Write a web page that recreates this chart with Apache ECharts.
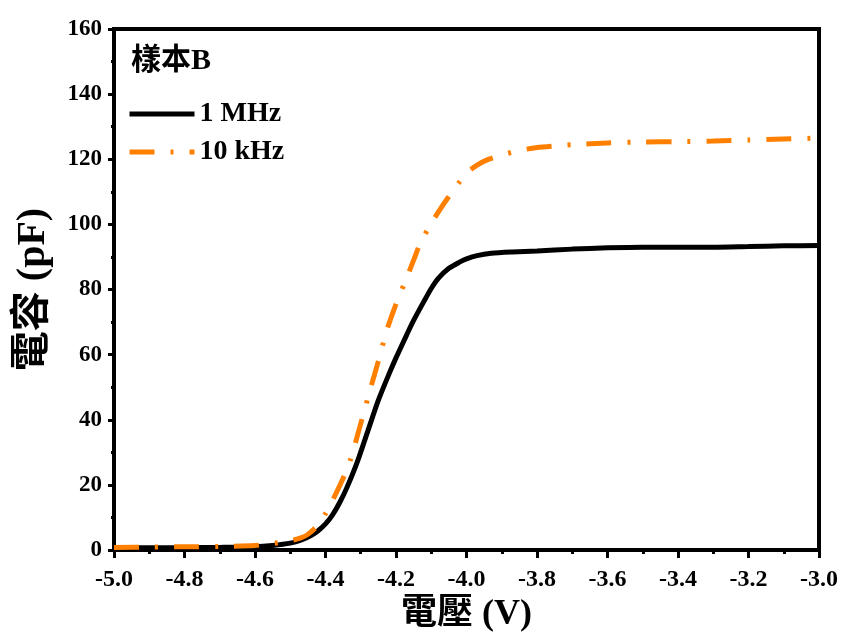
<!DOCTYPE html>
<html>
<head>
<meta charset="utf-8">
<script src="https://cdn.jsdelivr.net/npm/echarts@6/dist/echarts.min.js"></script>
<style>html,body{margin:0;padding:0;background:#fff}#c{width:845px;height:632px}</style>
</head>
<body>
<div id="c"></div>
<script>
const voltage1M = [-5.0,-4.9,-4.8,-4.7,-4.6,-4.55,-4.5,-4.47,-4.44,-4.42,-4.40,-4.38,-4.36,-4.34,-4.31,-4.28,-4.25,-4.22,-4.20,-4.17,-4.15,-4.12,-4.10,-4.08,-4.05,-4.02,-4.00,-3.97,-3.93,-3.87,-3.80,-3.70,-3.60,-3.50,-3.40,-3.30,-3.20,-3.10,-3.00];
const cap1M = [0.6,0.7,0.7,0.8,1.0,1.4,2.1,3.0,4.5,6.0,8.0,10.8,14.5,19,27,36.5,46,54,59,66,70.5,76.5,80.3,83.4,86.5,88.4,89.4,90.4,91.1,91.5,91.8,92.4,92.8,93.0,93.0,93.0,93.2,93.4,93.5];
const voltage10k = [-5.0,-4.9,-4.8,-4.7,-4.6,-4.55,-4.5,-4.47,-4.45,-4.42,-4.40,-4.38,-4.35,-4.33,-4.30,-4.27,-4.25,-4.226,-4.20,-4.17,-4.15,-4.13,-4.10,-4.075,-4.05,-4.02,-4.00,-3.97,-3.94,-3.90,-3.85,-3.80,-3.75,-3.70,-3.60,-3.50,-3.40,-3.30,-3.20,-3.10,-3.00];
const cap10k = [0.8,0.9,1.0,1.1,1.4,2.0,2.8,3.7,4.8,7.8,11.2,15.2,22,27.5,38.8,50.5,58,67.5,75.5,83.5,89,94.5,100.3,104.6,108.6,113,115.8,118.2,119.9,121.3,122.7,123.6,124.1,124.5,125,125.3,125.4,125.6,125.9,126.2,126.5];
const seriesNames = ['1 MHz','10 kHz'];
const sampleLabel = '樣本B';
const xTitle = '電壓 (V)';
const yTitle = '電容 (pF)';

const FONT = '"Liberation Serif","Noto Sans CJK TC",serif';
const pair = (xs, ys) => xs.map((x, i) => [x, ys[i]]);

const chart = echarts.init(document.getElementById('c'));
chart.setOption({
  animation: false,
  backgroundColor: '#fff',
  title: {
    text: sampleLabel, left: 131, top: 46, padding: 0,
    textStyle: {fontFamily: FONT, fontWeight: 'bold', fontSize: 30, color: '#000'}
  },
  legend: {
    orient: 'vertical', left: 127, top: 100, padding: 0,
    itemWidth: 65, itemHeight: 28, itemGap: 10,
    itemStyle: {opacity: 0},
    lineStyle: {width: 5},
    textStyle: {fontFamily: FONT, fontWeight: 'bold', fontSize: 28, color: '#000', lineHeight: 28, padding: [0, 0, 0, 0]},
    data: seriesNames
  },
  grid: {left: 114, right: 26, top: 29, bottom: 82, containLabel: false, outerBoundsMode: 'none',
    show: true, borderWidth: 4, borderColor: '#000'},
  xAxis: {
    type: 'value', min: -5, max: -3, interval: 0.2,
    name: xTitle, nameLocation: 'middle', nameGap: 46,
    nameTextStyle: {fontFamily: FONT, fontWeight: 'bold', fontSize: 36, color: '#000'},
    axisLine: {lineStyle: {color: '#000', width: 4}},
    axisTick: {length: 8, lineStyle: {width: 3, color: '#000'}},
    minorTick: {show: true, splitNumber: 2, length: 4, lineStyle: {width: 3, color: '#000'}},
    splitLine: {show: false},
    axisLabel: {fontFamily: FONT, fontWeight: 'bold', fontSize: 24, color: '#000', margin: 18,
      formatter: v => v.toFixed(1)}
  },
  yAxis: {
    type: 'value', min: 0, max: 160, interval: 20,
    name: yTitle, nameLocation: 'middle', nameGap: 60,
    nameTextStyle: {fontFamily: FONT, fontWeight: 'bold', fontSize: 40, color: '#000'},
    axisLine: {lineStyle: {color: '#000', width: 4}},
    axisTick: {length: 6, lineStyle: {width: 3, color: '#000'}},
    minorTick: {show: true, splitNumber: 2, length: 3, lineStyle: {width: 3, color: '#000'}},
    splitLine: {show: false},
    axisLabel: {fontFamily: FONT, fontWeight: 'bold', fontSize: 23, color: '#000', margin: 12}
  },
  series: [
    {
      name: seriesNames[0], type: 'line', data: pair(voltage1M, cap1M),
      symbol: 'none', smooth: 0.25,
      lineStyle: {color: '#000', width: 5},
      itemStyle: {color: '#000'}
    },
    {
      name: seriesNames[1], type: 'line', data: pair(voltage10k, cap10k),
      symbol: 'none', smooth: 0.25,
      lineStyle: {color: '#ff8000', width: 5, type: [25, 16, 3, 16], cap: 'butt'},
      itemStyle: {color: '#ff8000'}
    }
  ]
});
</script>
</body>
</html>
